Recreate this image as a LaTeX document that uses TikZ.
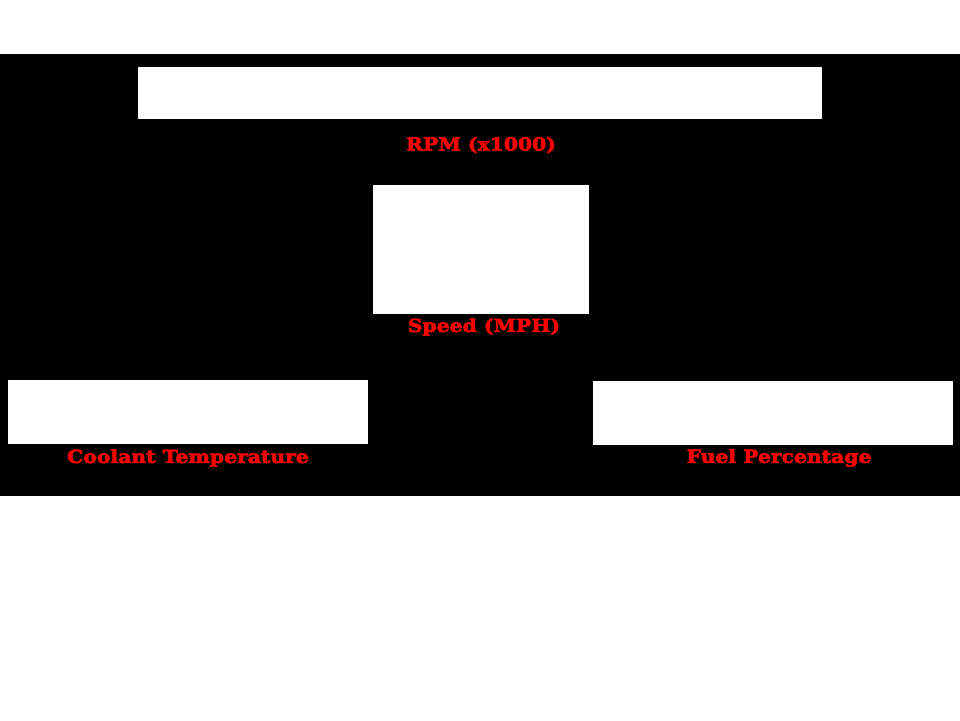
\documentclass[tikz,border=0pt]{standalone}
\usepackage{fontspec}
\setmainfont{DejaVu Serif}
\newfontfamily\lblfont[FakeStretch=1.13,FakeBold=3]{DejaVu Serif Bold}
\definecolor{lblred}{RGB}{255,0,0}
\begin{document}
\begin{tikzpicture}[x=1pt,y=-1pt,
  panel/.style={fill=white,draw=none,inner sep=0pt,anchor=north west},
  lbl/.style={text=lblred,font=\lblfont\fontsize{18}{21}\selectfont,inner sep=0pt,anchor=center}]
\useasboundingbox (0,0) rectangle (960,720);
\fill[white] (0,0) rectangle (960,720);
\fill[black] (0,54) rectangle (960,496);
\node[panel,minimum width=684pt,minimum height=52pt] (rpm) at (138,67) {};
\node[lbl] (rpmlbl) at (481,145) {RPM (x1000)};
\node[panel,minimum width=216pt,minimum height=129pt] (speed) at (373,185) {};
\node[lbl] (speedlbl) at (484,327) {Speed (MPH)};
\node[panel,minimum width=360pt,minimum height=64pt] (cool) at (8,380) {};
\node[lbl] (coollbl) at (188,458) {Coolant Temperature};
\node[panel,minimum width=360pt,minimum height=64pt] (fuel) at (593,381) {};
\node[lbl] (fuellbl) at (779,458) {Fuel Percentage};
\end{tikzpicture}
\end{document}
